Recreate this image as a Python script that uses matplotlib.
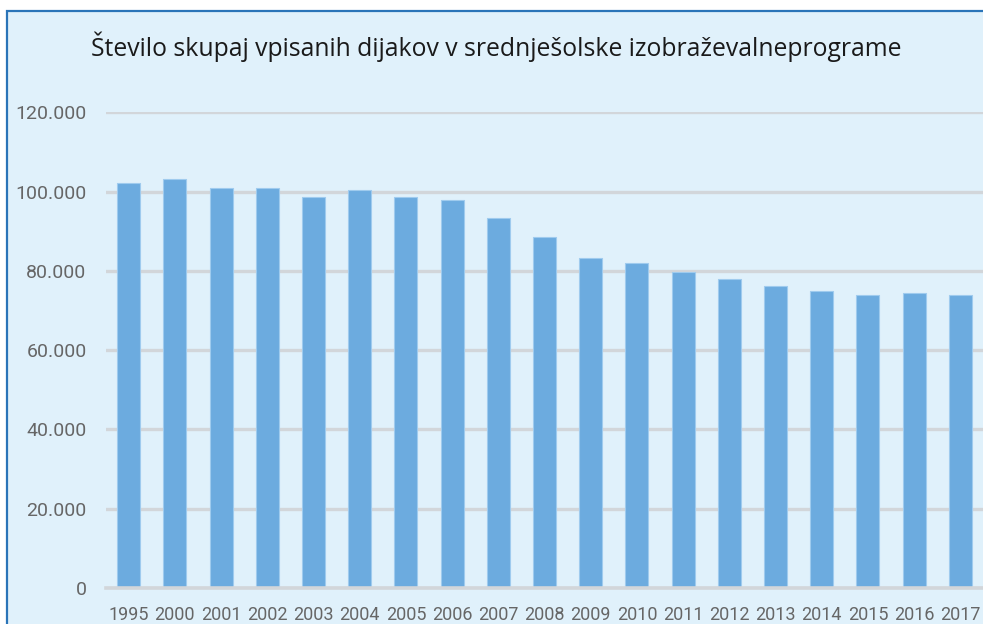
import matplotlib.pyplot as plt
from matplotlib.patches import Rectangle
from matplotlib.ticker import FuncFormatter

# Data
years = ['1995', '2000', '2001', '2002', '2003', '2004', '2005', '2006', '2007', '2008',
         '2009', '2010', '2011', '2012', '2013', '2014', '2015', '2016', '2017']
students = [102100, 103300, 100900, 100900, 98600, 100400, 98600, 98000, 93300, 88500,
            83200, 82000, 79700, 77900, 76100, 74900, 73800, 74300, 73800]
y_ticks = [0, 20000, 40000, 60000, 80000, 100000, 120000]
title = 'Število skupaj vpisanih dijakov v srednješolske izobraževalneprograme'

panel_bg = '#e0f1fb'
bar_color = '#6cabdf'
grid_color = '#d2d6da'
text_gray = '#666666'

W, H = 983, 624
fig = plt.figure(figsize=(W / 100, H / 100), dpi=100)
fig.patch.set_facecolor('white')

# light blue panel with blue border on left/top
fig.patches.append(Rectangle((7 / W, -0.1), 1.2, (H - 11) / H + 0.1,
                             transform=fig.transFigure, facecolor=panel_bg,
                             edgecolor='#2a74b8', linewidth=1.6, zorder=-10))

fig.text(91 / W, 1 - 47 / H, title, fontsize=17.8, family='Open Sans',
         color='#1a1a1a', va='center', ha='left')

ax = fig.add_axes([106 / W, 1 - 588 / H, 1 - 106 / W, (588 - 112.3) / H])
ax.set_facecolor('none')

x = list(range(len(years)))
ax.bar(x, students, width=0.5, color=bar_color, edgecolor='#9fcbee',
       linewidth=0.8, zorder=3)

ax.set_xlim(-0.49, 18.49)
ax.set_ylim(0, 120000)
ax.set_yticks(y_ticks)
ax.yaxis.set_major_formatter(FuncFormatter(lambda v, p: f'{int(v):,}'.replace(',', '.')))
ax.set_xticks(x)
ax.set_xticklabels(years)

ax.grid(axis='y', color=grid_color, linewidth=2.4, zorder=1)
ax.set_axisbelow(True)
for s in ['top', 'right', 'left']:
    ax.spines[s].set_visible(False)
ax.spines['bottom'].set_color(grid_color)
ax.spines['bottom'].set_linewidth(2.6)
ax.spines['bottom'].set_zorder(4)

ax.tick_params(axis='both', length=0, labelcolor=text_gray)
ax.tick_params(axis='y', pad=14, labelsize=14)
ax.tick_params(axis='x', pad=13, labelsize=13)
for lbl in ax.get_xticklabels() + ax.get_yticklabels():
    lbl.set_family('Roboto')

fig.savefig('out.png', dpi=100, facecolor=fig.get_facecolor())
